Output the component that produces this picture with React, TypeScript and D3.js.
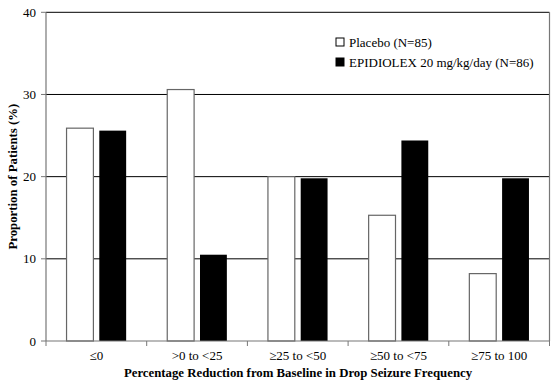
import React from "react";
import * as d3 from "d3";

const categories = ["≤0", ">0 to <25", "≥25 to <50", "≥50 to <75", "≥75 to 100"];
const seriesNames = ["Placebo (N=85)", "EPIDIOLEX 20 mg/kg/day (N=86)"];
const placebo = [25.9, 30.6, 20.0, 15.3, 8.2];
const epidiolex = [25.6, 10.5, 19.8, 24.4, 19.8];
const yTicks = [0, 10, 20, 30, 40];
const gridTicks = [10, 20, 30, 40];

const W = 553;
const H = 385;
const M = { left: 46, right: 3.5, top: 12.3, bottom: 44 };
const FONT = "'Liberation Serif', 'Times New Roman', Times, serif";

export default function App() {
  const x0 = d3.scaleBand<string>().domain(categories).range([M.left, W - M.right]).padding(0);
  const bw0 = x0.bandwidth();
  const pad = bw0 * 0.204;
  const x1 = d3
    .scaleBand<string>()
    .domain(["p", "e"])
    .range([pad, bw0 - pad])
    .paddingInner(0.18)
    .paddingOuter(0);
  const y = d3.scaleLinear().domain([0, 40]).range([H - M.bottom, M.top]);
  const x0s = M.left;
  const x1s = W - M.right;
  const boundaries = [...categories.map((c) => x0(c) as number), x1s];

  return (
    <svg
      width={W}
      height={H}
      style={{ position: "absolute", left: 0, top: 0, background: "#fff" }}
      fontFamily={FONT}
    >
      <rect x={0} y={0} width={W} height={H} fill="#fff" />
      {gridTicks.map((t) => (
        <line key={t} x1={x0s} x2={x1s} y1={y(t)} y2={y(t)} stroke="#000" strokeWidth={1} />
      ))}
      <line x1={x1s} x2={x1s} y1={y(40)} y2={y(0)} stroke="#777" strokeWidth={1.2} />
      {categories.map((c, i) => (
        <g key={c} transform={`translate(${x0(c)},0)`}>
          <rect
            x={x1("p")}
            y={y(placebo[i])}
            width={x1.bandwidth()}
            height={y(0) - y(placebo[i])}
            fill="#fff"
            stroke="#666"
            strokeWidth={1.2}
          />
          <rect
            x={x1("e")}
            y={y(epidiolex[i])}
            width={x1.bandwidth()}
            height={y(0) - y(epidiolex[i])}
            fill="#000"
          />
        </g>
      ))}
      <line x1={x0s} x2={x0s} y1={y(40)} y2={y(0)} stroke="#777" strokeWidth={1.2} />
      {yTicks.map((t) => (
        <g key={t}>
          <line x1={x0s - 5} x2={x0s} y1={y(t)} y2={y(t)} stroke="#777" strokeWidth={1} />
          <text x={x0s - 10} y={y(t)} dy="0.35em" textAnchor="end" fontSize={13} fill="#000">
            {t}
          </text>
        </g>
      ))}
      <line x1={x0s} x2={x1s} y1={y(0)} y2={y(0)} stroke="#777" strokeWidth={1.2} />
      {boundaries.map((b, i) => (
        <line key={i} x1={b} x2={b} y1={y(0)} y2={y(0) + 5} stroke="#777" strokeWidth={1} />
      ))}
      {categories.map((c) => (
        <text
          key={c}
          x={(x0(c) as number) + bw0 / 2}
          y={360}
          textAnchor="middle"
          fontSize={13}
          fill="#000"
        >
          {c}
        </text>
      ))}
      <text x={298} y={377} textAnchor="middle" fontSize={12.8} fontWeight="bold" fill="#000">
        Percentage Reduction from Baseline in Drop Seizure Frequency
      </text>
      <text
        transform={`translate(17,${(y(0) + y(40)) / 2}) rotate(-90)`}
        textAnchor="middle"
        fontSize={12.8}
        fontWeight="bold"
        fill="#000"
      >
        Proportion of Patients (%)
      </text>
      {seriesNames.map((s, i) => (
        <g key={s} transform={`translate(336,${42 + i * 20})`}>
          <rect
            x={0}
            y={-4}
            width={8}
            height={8}
            fill={i === 0 ? "#fff" : "#000"}
            stroke="#000"
            strokeWidth={1}
          />
          <text x={13} y={0} dy="0.35em" fontSize={13} fill="#000">
            {s}
          </text>
        </g>
      ))}
    </svg>
  );
}
